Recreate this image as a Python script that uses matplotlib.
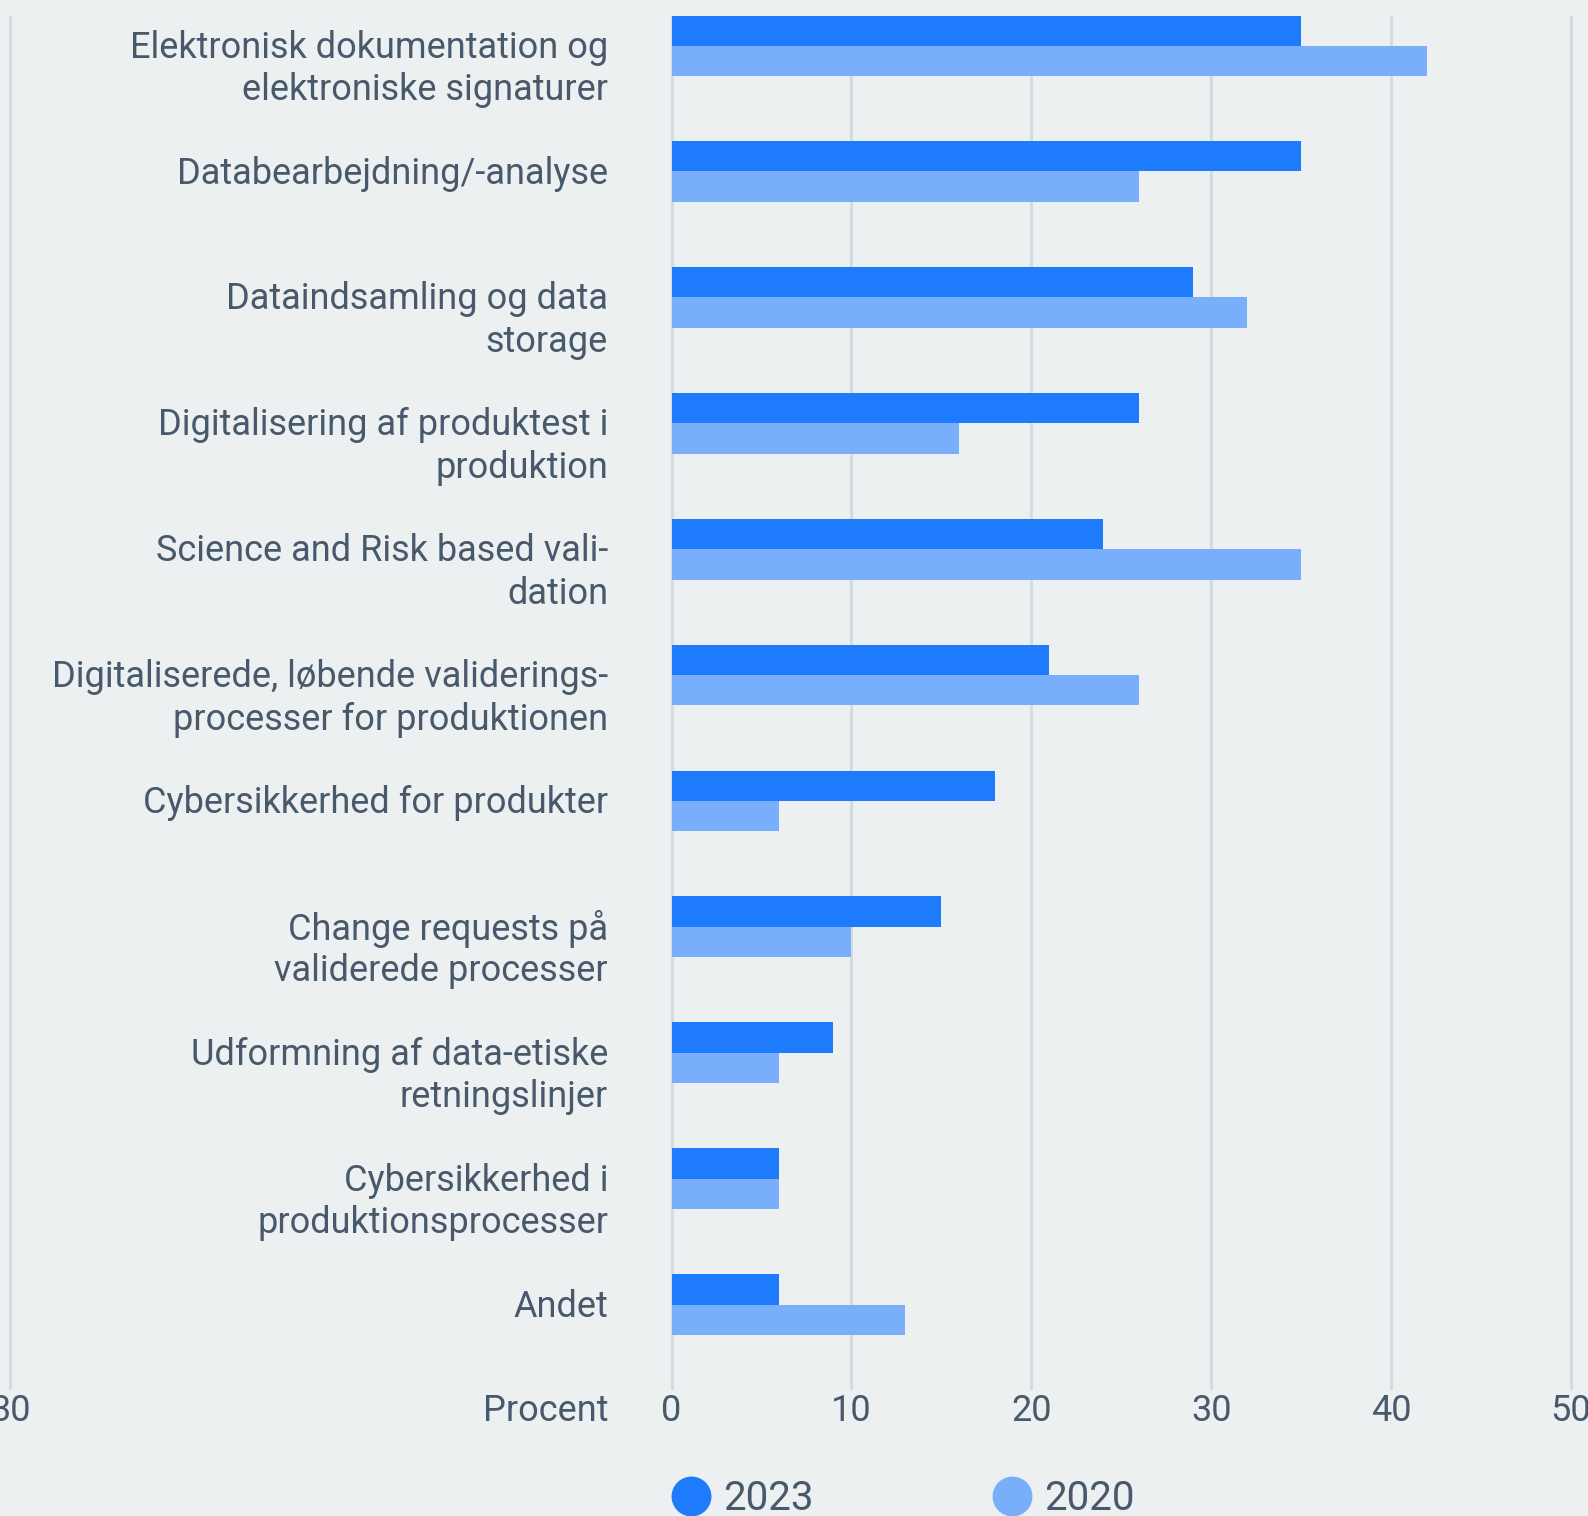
import matplotlib.pyplot as plt
from matplotlib.lines import Line2D

plt.rcParams['font.family'] = ['Roboto', 'DejaVu Sans']

# Categories and shares (percent) for both survey years
labels = [
    'Elektronisk dokumentation og\nelektroniske signaturer',
    'Databearbejdning/-analyse',
    'Dataindsamling og data\nstorage',
    'Digitalisering af produktest i\nproduktion',
    'Science and Risk based vali-\ndation',
    'Digitaliserede, løbende validerings-\nprocesser for produktionen',
    'Cybersikkerhed for produkter',
    'Change requests på\nvaliderede processer',
    'Udformning af data-etiske\nretningslinjer',
    'Cybersikkerhed i\nproduktionsprocesser',
    'Andet',
]
values_2023 = [35, 35, 29, 26, 24, 21, 18, 15, 9, 6, 6]
values_2020 = [42, 26, 32, 16, 35, 26, 6, 10, 6, 6, 13]
tick_values = [-36.76, 0, 10, 20, 30, 40, 50]
tick_labels = ['30', '0', '10', '20', '30', '40', '50']

bg = '#ECF0F1'
text_color = '#48596C'
grid_color = '#D3DCDF'
c2023 = '#1E7BFB'
c2020 = '#79AFFA'

fig = plt.figure(figsize=(15.88, 15.16), dpi=100, facecolor=bg)
ax = fig.add_axes([0, 126 / 1516, 1, (1500 - 126) / 1516], facecolor=bg)

y = list(range(len(labels)))
h = 0.2415
ax.barh([i - h / 2 for i in y], values_2023, height=h, color=c2023, zorder=3)
ax.barh([i + h / 2 for i in y], values_2020, height=h, color=c2020, zorder=3)

ax.set_xlim(-37.33, 50.95)
ax.set_ylim(len(labels) - 1 + 0.679, -0.235)

ax.set_xticks(tick_values)
ax.set_xticklabels(tick_labels, fontsize=26, color=text_color)
ax.tick_params(axis='x', length=0, pad=2)
ax.set_yticks([])
ax.grid(axis='x', color=grid_color, lw=2.2, zorder=0)
ax.set_axisbelow(True)
for s in ax.spines.values():
    s.set_visible(False)

# category labels sit inside the axes, right-aligned just left of zero
line_step = 42.5 * 72 / 100
for i, lab in enumerate(labels):
    for k, line in enumerate(lab.split('\n')):
        ax.annotate(line, xy=(-3.53, i), xycoords='data',
                    xytext=(0, -1.5 - k * line_step), textcoords='offset points',
                    ha='right', va='center', fontsize=26, color=text_color)

ax.annotate('Procent', xy=(-3.53, 0), xycoords=('data', 'axes fraction'),
            xytext=(0, -2), textcoords='offset points',
            ha='right', va='top', fontsize=26, color=text_color)

handles = [
    Line2D([], [], marker='o', ls='', markersize=27.7, color=c2023),
    Line2D([], [], marker='o', ls='', markersize=27.7, color=c2020),
]
leg = fig.legend(handles, ['2023', '2020'], loc='center left',
                 bbox_to_anchor=(670.5 / 1588, 17 / 1516), ncol=2,
                 frameon=False, fontsize=29, handlelength=1,
                 handletextpad=0.3, columnspacing=4.42,
                 borderpad=0, borderaxespad=0)
for t in leg.get_texts():
    t.set_color(text_color)

fig.savefig('out.png', dpi=100, facecolor=bg)
